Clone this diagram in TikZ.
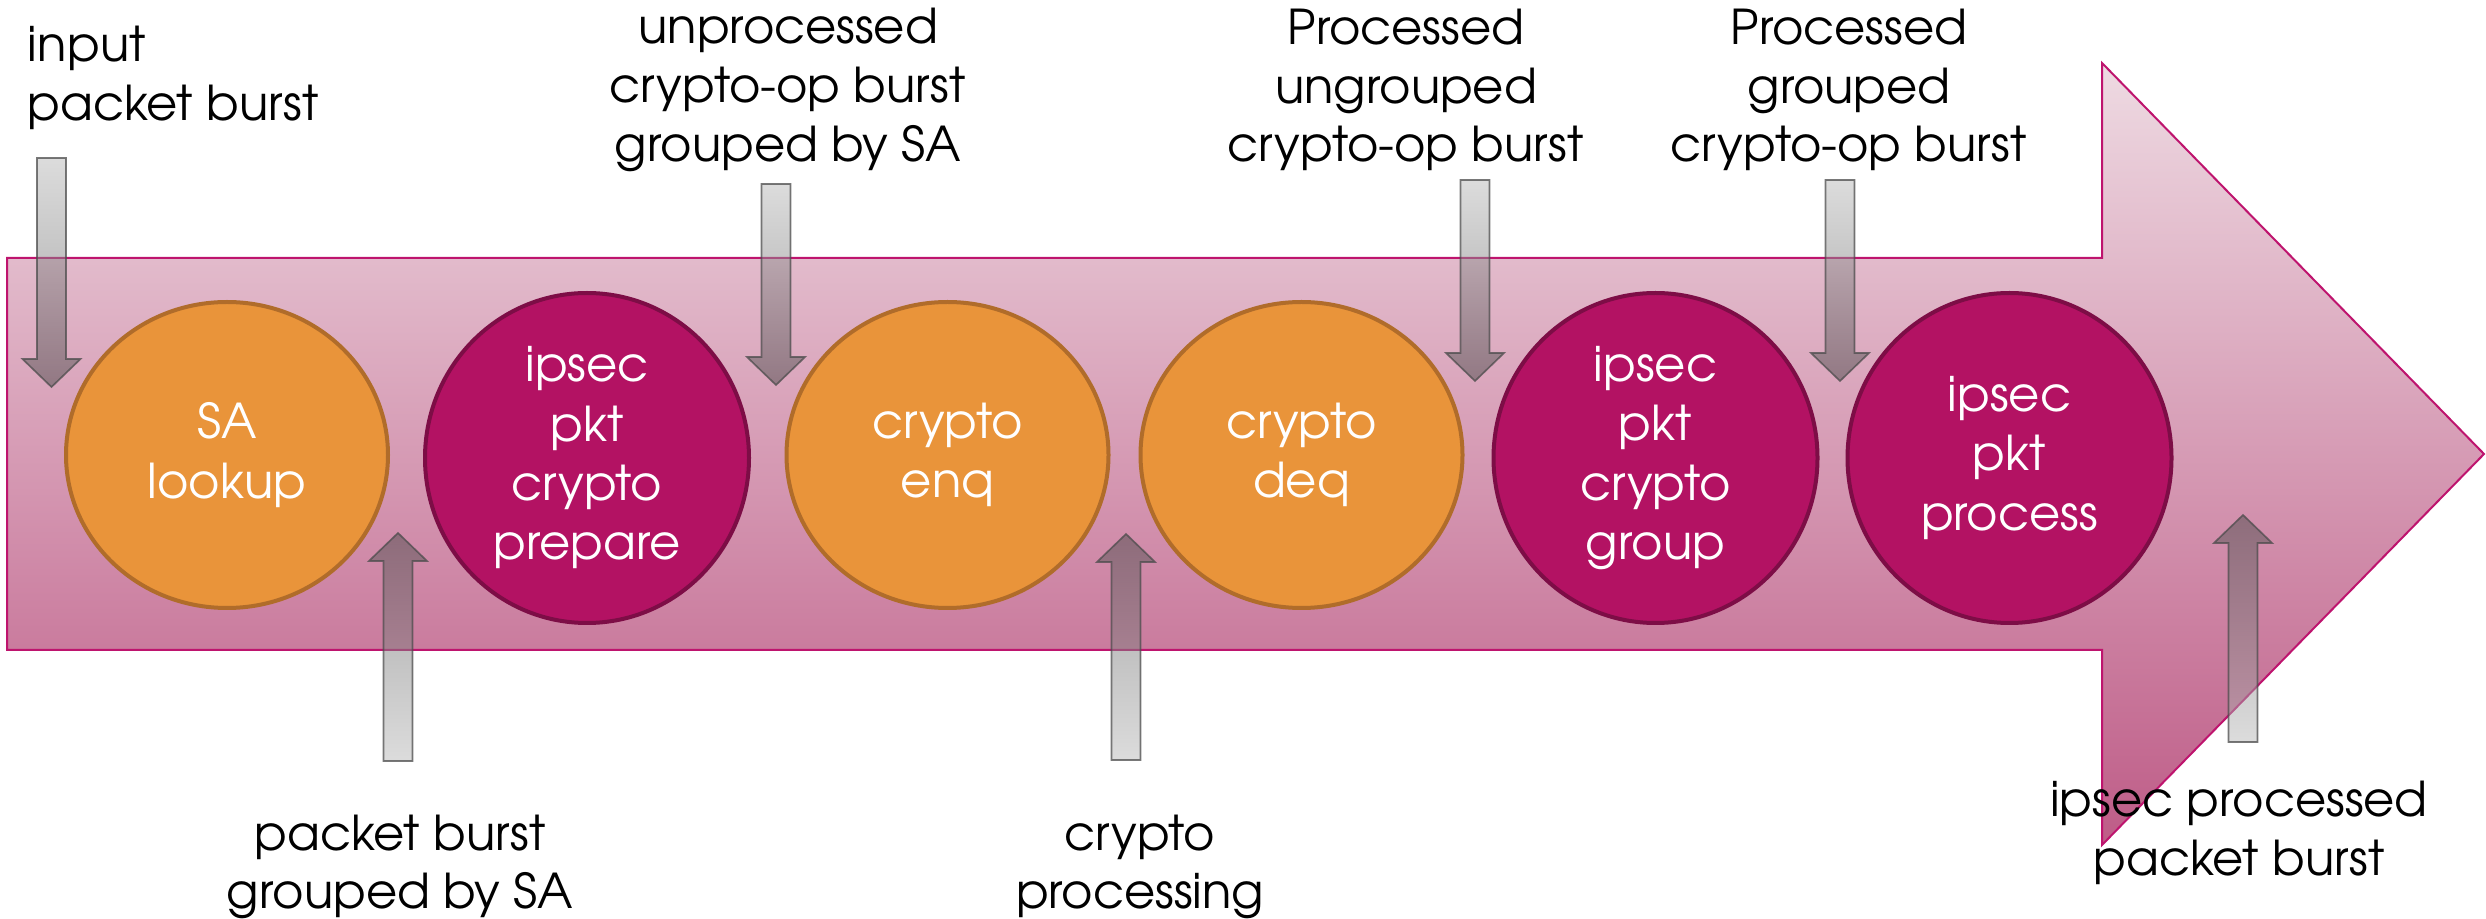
\documentclass[tikz,border=0pt]{standalone}
\usepackage{fontspec}
\setmainfont{TeX Gyre Adventor}
\usetikzlibrary{shapes.geometric}

\definecolor{orangefill}{RGB}{233,148,58}
\definecolor{orangeline}{RGB}{176,108,42}
\definecolor{magfill}{RGB}{179,18,99}
\definecolor{magline}{RGB}{125,13,70}
\definecolor{flowline}{RGB}{190,20,110}
\definecolor{pinktop}{RGB}{238,218,226}
\definecolor{pinkbot}{RGB}{190,92,135}
\definecolor{graytail}{RGB}{185,185,185}
\definecolor{grayhead}{RGB}{75,75,75}

% block arrow pointing down: centre x, tail y, tip y
\newcommand\blockdown[3]{%
  \shadedraw[feed]
    (#1-14.5,#2) -- (#1+14.5,#2) -- (#1+14.5,#3-28) -- (#1+29,#3-28)
    -- (#1,#3) -- (#1-29,#3-28) -- (#1-14.5,#3-28) -- cycle;}
% block arrow pointing up: centre x, tail y, tip y
\newcommand\blockup[3]{%
  \shadedraw[feed, top color=grayhead, bottom color=graytail]
    (#1-14.5,#2) -- (#1+14.5,#2) -- (#1+14.5,#3+28) -- (#1+29,#3+28)
    -- (#1,#3) -- (#1-29,#3+28) -- (#1-14.5,#3+28) -- cycle;}

\begin{document}
\begin{tikzpicture}[x=0.3pt,y=-0.3pt,
  feed/.style={top color=graytail, bottom color=grayhead, fill opacity=0.5,
    draw=black!70, draw opacity=0.75, line width=0.5pt},
  stage/.style={ellipse, line width=1.2pt, inner sep=0pt, text=white,
    align=center, font=\fontsize{14.4pt}{17.8pt}\selectfont},
  orangestage/.style={stage, fill=orangefill, draw=orangeline,
    minimum width=96.6pt, minimum height=91.8pt},
  magstage/.style={stage, fill=magfill, draw=magline,
    minimum width=97.2pt, minimum height=99pt},
  caption/.style={align=center, inner sep=0pt, text=black,
    font=\fontsize{14.4pt}{17.6pt}\selectfont}]

\useasboundingbox (0,0) rectangle (2486,919);

% main flow arrow
\shadedraw[top color=pinktop, bottom color=pinkbot, draw=flowline, line width=0.6pt]
  (7,258) -- (2102,258) -- (2102,63) -- (2484,454) -- (2102,845)
  -- (2102,650) -- (7,650) -- cycle;

% feeding arrows
\blockdown{51.5}{158}{387}
\blockup{398}{761}{533}
\blockdown{776}{184}{385}
\blockup{1126}{760}{534}
\blockdown{1475}{180}{381}
\blockdown{1840}{180}{381}
\blockup{2243}{742}{515}

% processing stages
\node[orangestage] (lookup)  at (227,455)    {SA\\lookup};
\node[magstage]    (prepare) at (587,458)    {ipsec\\pkt\\crypto\\prepare};
\node[orangestage] (enq)     at (947.5,455)  {crypto\\enq};
\node[orangestage] (deq)     at (1301.5,455) {crypto\\deq};
\node[magstage]    (group)   at (1655.5,458) {ipsec\\pkt\\crypto\\group};
\node[magstage]    (process) at (2009.5,458) {ipsec\\pkt\\process};

% captions
\node[caption, align=left, anchor=west] (in) at (27,78) {input\\packet burst};
\node[caption] (unproc)  at (788,90)   {unprocessed\\crypto-op burst\\grouped by SA};
\node[caption] (ungrp)   at (1406,90)  {Processed\\ungrouped\\crypto-op burst};
\node[caption] (grp)     at (1849,90)  {Processed\\grouped\\crypto-op burst};
\node[caption] (bysa)    at (400,867)  {packet burst\\grouped by SA};
\node[caption] (cproc)   at (1140,867) {crypto\\processing};
\node[caption] (out)     at (2239,833) {ipsec processed\\packet burst};
\end{tikzpicture}
\end{document}
